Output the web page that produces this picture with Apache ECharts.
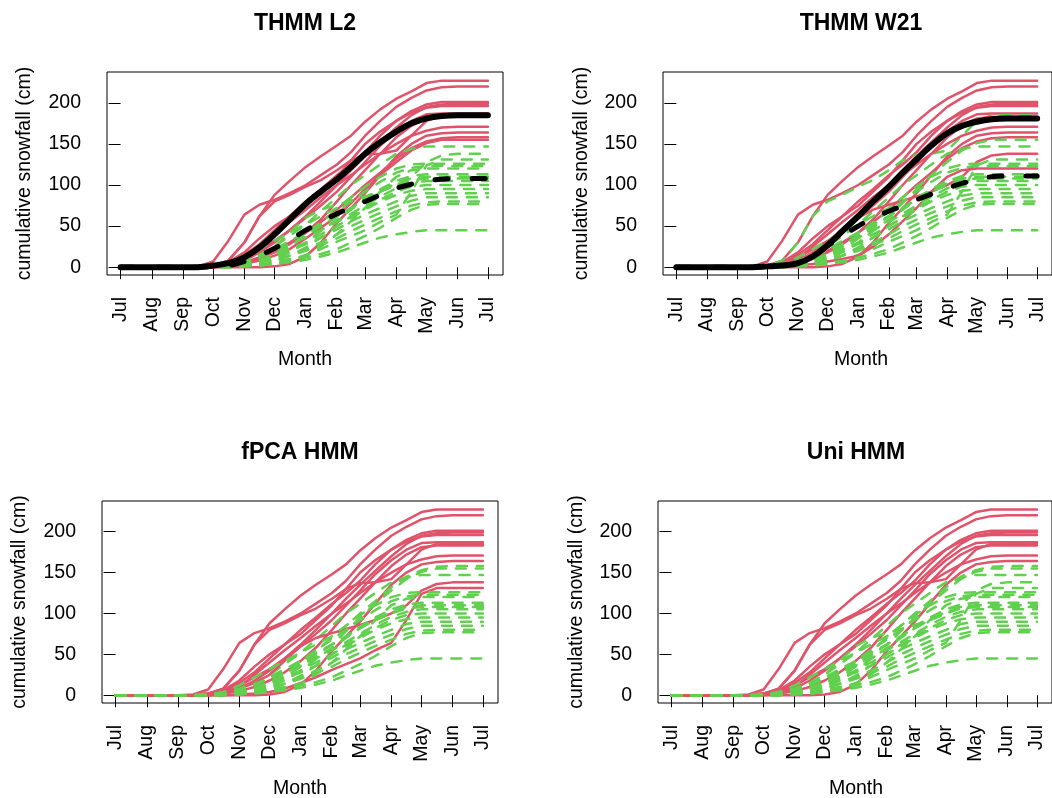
<!DOCTYPE html>
<html><head><meta charset="utf-8">
<script src="https://cdn.jsdelivr.net/npm/echarts@6/dist/echarts.min.js"></script>
<style>html,body{margin:0;padding:0;background:#fff}#c{width:1052px;height:798px}</style>
</head><body><div id="c"></div>
<script>
// sample days (0 = 1 Jul), roughly semi-monthly
const days = [0,15,31,46,62,77,92,107,123,138,153,168,184,199,215,229,243,258,274,289,304,319,335,350,365];
const monthTicks = [0,31,62,92,123,153,184,215,243,274,304,335,365];
const monthLabels = ['Jul','Aug','Sep','Oct','Nov','Dec','Jan','Feb','Mar','Apr','May','Jun','Jul'];
const yTicks = [0,50,100,150,200];
const panelTitles = ['THMM L2','THMM W21','fPCA HMM','Uni HMM'];

// cumulative snowfall curves (cm)
const s01 = [0,0,0,0,0,0,2,8,30,62,88,105,122,135,148,160,177,192,205,214,224,227,227,227,227];
const s02 = [0,0,0,0,0,1,7,32,64,76,82,90,100,112,125,140,160,178,195,206,215,219,220,220,220];
const s03 = [0,0,0,0,0,0,2,5,15,28,45,62,80,95,112,125,140,160,178,190,198,201,201,201,201];
const s04 = [0,0,0,0,0,0,1,3,8,18,30,45,62,80,100,118,135,152,170,185,195,198,199,199,199];
const s05 = [0,0,0,0,0,0,2,6,18,35,50,62,75,92,110,130,150,165,178,188,194,196,196,196,196];
const s06 = [0,0,0,0,0,0,1,4,12,22,32,45,60,75,92,110,128,148,165,178,186,187,187,187,187];
const s07 = [0,0,0,0,0,0,2,8,30,62,80,88,98,106,118,130,137,138,142,160,178,185,185,185,185];
const s08 = [0,0,0,0,0,0,0,2,5,10,18,28,42,58,80,100,118,138,158,172,181,183,183,183,183];
const s09 = [0,0,0,0,0,0,1,3,10,25,40,55,70,85,100,112,125,138,150,160,166,170,171,171,171];
const s10 = [0,0,0,0,0,0,0,0,0,0,1,4,13,30,54,72,90,112,135,150,160,163,164,164,164];
const s11 = [0,0,0,0,0,0,0,2,6,12,20,30,42,55,70,85,100,115,132,145,153,157,158,158,158];
const s12 = [0,0,0,0,0,0,0,1,4,8,14,22,35,48,62,78,95,112,128,142,151,155,155,155,155];
const s13 = [0,0,0,0,0,0,1,3,8,15,25,38,52,68,85,100,112,125,138,144,147,147,147,147,147];
const s14 = [0,0,0,0,0,0,1,3,8,15,25,42,60,70,76,81,86,92,100,110,128,136,138,138,138];
const s15 = [0,0,0,0,0,0,0,0,1,2,4,8,15,22,31,38,45,55,64,92,124,131,131,131,131];
const s16 = [0,0,0,0,0,0,1,4,12,22,32,42,52,62,72,85,98,110,120,125,126,126,126,126,126];
const s17 = [0,0,0,0,0,0,0,1,3,7,14,25,40,55,68,80,92,104,115,121,123,123,123,123,123];
const s18 = [0,0,0,0,0,0,0,1,2,4,7,10,14,25,40,56,72,92,110,118,120,120,120,120,120];
const s19 = [0,0,0,0,0,0,0,1,4,9,16,26,38,50,62,72,84,95,105,111,113,113,113,113,113];
const s20 = [0,0,0,0,0,0,1,2,6,12,22,32,42,52,62,72,82,92,102,108,110,110,110,110,110];
const s21 = [0,0,0,0,0,0,0,1,3,6,10,18,30,44,58,70,82,92,100,106,108,108,108,108,108];
const s22 = [0,0,0,0,0,0,1,3,8,14,20,28,36,45,55,65,75,86,96,102,105,105,105,105,105];
const s23 = [0,0,0,0,0,0,0,1,2,4,8,14,24,36,50,62,72,82,92,98,100,100,100,100,100];
const s24 = [0,0,0,0,0,0,0,1,4,8,15,22,30,40,50,60,70,80,88,93,95,95,95,95,95];
const s25 = [0,0,0,0,0,0,0,1,3,6,12,20,28,36,46,56,64,72,80,87,90,90,90,90,90];
const s26 = [0,0,0,0,0,0,0,0,2,4,8,14,22,30,40,50,58,66,74,81,85,85,85,85,85];
const s27 = [0,0,0,0,0,0,0,1,2,5,9,14,20,27,35,44,52,60,68,75,79,80,80,80,80];
const s28 = [0,0,0,0,0,0,0,0,1,3,5,8,12,16,22,30,38,48,60,70,76,77,77,77,77];
const s29 = [0,0,0,0,0,0,0,0,1,2,4,6,9,13,18,24,30,36,40,43,45,45,45,45,45];
const curves = [s01,s02,s03,s04,s05,s06,s07,s08,s09,s10,s11,s12,s13,s14,s15,s16,s17,s18,s19,s20,s21,s22,s23,s24,s25,s26,s27,s28,s29];

// cluster labels per panel (1 = red/solid, 2 = green/dashed)
const clusterL2   = [1,1,1,1,1,1,1,1,1,1,1,1,2,2,2,2,2,2,2,2,2,2,2,2,2,2,2,2,2];
const clusterW21  = [1,1,1,1,1,1,2,1,1,1,1,2,2,1,2,2,2,1,2,2,2,2,2,2,2,2,2,2,2];
const clusterFPCA = [1,1,1,1,1,1,1,1,1,1,2,2,2,1,1,2,2,2,2,2,2,2,2,2,2,2,2,2,2];
const clusterUni  = [1,1,1,1,1,1,1,1,1,1,2,2,2,2,2,2,2,2,2,2,2,2,2,2,2,2,2,2,2];

// cluster mean curves (top panels)
const meanL2Red    = [0,0,0,0,0,0,2,5,12,24,40,58,77,92,107,122,138,152,165,175,181,184,185,185,185];
const meanL2Green  = [0,0,0,0,0,0,1,2,7,14,23,33,45,55,65,73,80,88,96,101,105,107,108,108,108];
const meanW21Red   = [0,0,0,0,0,0,1,2,5,13,27,44,62,80,98,115,131,148,163,172,177,180,181,181,181];
const meanW21Green = [0,0,0,0,0,0,1,2,5,13,26,38,50,60,68,75,82,89,96,102,107,110,111,111,111];

const RED = '#DF536B', GREEN = '#61D04F';
const FONT = 'Liberation Sans, Arial, Helvetica, sans-serif';

const grids = [
  {left:107, top:72,  width:396, height:203},
  {left:663, top:72,  width:396, height:203},
  {left:102, top:501, width:396, height:202},
  {left:658, top:501, width:396, height:202}
];
const clusters = [clusterL2, clusterW21, clusterFPCA, clusterUni];
const means = [[meanL2Red, meanL2Green],[meanW21Red, meanW21Green],null,null];

const series = [];
clusters.forEach((cl, p) => {
  curves.forEach((cv, i) => {
    const red = cl[i] === 1;
    series.push({
      type:'line', xAxisIndex:p, yAxisIndex:p, symbol:'none', silent:true, animation:false,
      data: days.map((d,j)=>[d, cv[j]]),
      lineStyle: red ? {color:RED, width:2.5, cap:'round', join:'round'}
                     : {color:GREEN, width:2.5, type:[10,10], cap:'round', join:'round'},
      emphasis:{disabled:true}
    });
  });
  if (means[p]) {
    series.push({type:'line', xAxisIndex:p, yAxisIndex:p, symbol:'none', silent:true, animation:false, smooth:0.35,
      data: days.map((d,j)=>[d, means[p][0][j]]), lineStyle:{color:'#000', width:6, cap:'round', join:'round'}, emphasis:{disabled:true}, z:3});
    series.push({type:'line', xAxisIndex:p, yAxisIndex:p, symbol:'none', silent:true, animation:false, smooth:0.35,
      data: days.map((d,j)=>[d, means[p][1][j]]), lineStyle:{color:'#000', width:5, type:[13,24], cap:'round', join:'round'}, emphasis:{disabled:true}, z:3});
  }
});

const xAxes = grids.map((g,p)=>({
  type:'value', gridIndex:p, min:-13.5, max:380,
  axisLine:{show:false}, splitLine:{show:false},
  axisTick:{show:true, customValues:monthTicks, length:12, inside:false, lineStyle:{color:'#000', width:1}},
  axisLabel:{show:true, customValues:monthTicks, rotate:90, margin:22, color:'#000', fontSize:19.5, fontFamily:FONT,
    formatter:(v)=>{const k=monthTicks.indexOf(Math.round(v)); return k>=0?monthLabels[k]:'';}}
}));
const yAxes = grids.map((g,p)=>({
  type:'value', gridIndex:p, min:-9.5, max:237.5,
  axisLine:{show:false}, splitLine:{show:false},
  axisTick:{show:true, customValues:yTicks, length:12, inside:false, lineStyle:{color:'#000', width:1}},
  axisLabel:{show:true, customValues:yTicks, margin:26, color:'#000', fontSize:19.5, fontFamily:FONT}
}));

const titlePos = [[305,24],[861,24],[300,452.5],[856,452.5]];
const ylabPos = [[25,173.5],[582,173.5],[20,602],[577,602]];
const xlabPos = [[305,360],[861,360],[300,789],[856,789]];
const graphics = [];
panelTitles.forEach((t,p)=>{
  graphics.push({type:'text', x:titlePos[p][0], y:titlePos[p][1], silent:true,
    style:{text:t, fill:'#000', font:'bold 23px '+FONT, textAlign:'center', textVerticalAlign:'middle'}});
  graphics.push({type:'text', x:ylabPos[p][0], y:ylabPos[p][1], rotation:Math.PI/2, silent:true,
    style:{text:'cumulative snowfall (cm)', fill:'#000', font:'19.5px '+FONT, textAlign:'center', textVerticalAlign:'middle'}});
  graphics.push({type:'text', x:xlabPos[p][0], y:xlabPos[p][1], silent:true,
    style:{text:'Month', fill:'#000', font:'19.5px '+FONT, textAlign:'center', textVerticalAlign:'middle'}});
});

const chart = echarts.init(document.getElementById('c'), null, {renderer:'canvas'});
chart.setOption({
  backgroundColor:'#fff', animation:false,
  grid: grids.map(g=>Object.assign({show:true, borderColor:'#000', borderWidth:1, backgroundColor:'transparent'}, g)),
  xAxis:xAxes, yAxis:yAxes, series:series, graphic:graphics
});
</script></body></html>
